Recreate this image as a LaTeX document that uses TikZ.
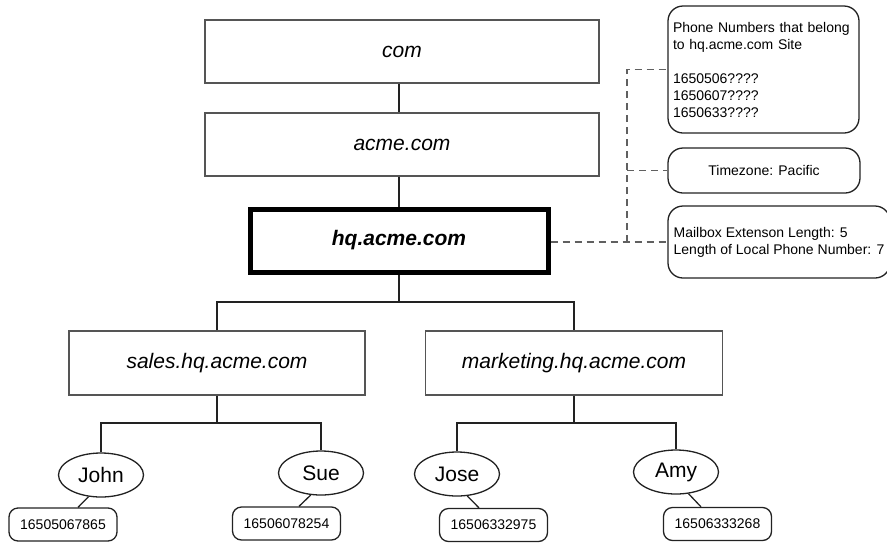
\documentclass[tikz,border=0pt]{standalone}
\usepackage{fontspec}
\setmainfont{Liberation Sans}
\usetikzlibrary{shapes.geometric,calc}
\definecolor{boxline}{HTML}{555555}
\definecolor{conn}{HTML}{222222}
\definecolor{dashc}{HTML}{606060}
\tikzset{
  dombox/.style={draw=boxline,line width=1.3pt,rectangle,inner sep=0pt,
    font=\fontsize{21}{25}\selectfont\itshape},
  hqbox/.style={draw=black,line width=5pt,rectangle,inner sep=0pt,
    font=\fontsize{21}{25}\selectfont\bfseries\itshape},
  person/.style={draw=conn,line width=1.3pt,ellipse,inner sep=0pt,
    minimum width=85pt,minimum height=44pt,font=\fontsize{21}{25}\selectfont},
  numbox/.style={draw=conn,line width=1.3pt,rectangle,rounded corners=9pt,inner sep=0pt,
    minimum width=108pt,minimum height=33pt,font=\fontsize{14}{17}\selectfont},
  infobox/.style={draw=conn,line width=1.3pt,rectangle,rounded corners=15pt,inner xsep=5pt,inner ysep=0pt,
    font=\fontsize{14}{17}\selectfont,align=left},
  conline/.style={draw=conn,line width=2pt},
  thinline/.style={draw=conn,line width=1.3pt},
  dashline/.style={draw=dashc,line width=1.8pt,dash pattern=on 7pt off 5pt},
}
\begin{document}
\begin{tikzpicture}[x=1pt,y=-1pt]
\useasboundingbox (0,0) rectangle (887,542);
% domain boxes
\node[dombox,minimum width=394pt,minimum height=63pt] (com) at (402,51.5) {com};
\node[dombox,minimum width=394pt,minimum height=63pt] (acme) at (402,144.5) {acme.com};
\node[hqbox,minimum width=298pt,minimum height=63pt] (hq) at (399,240.5) {hq.acme.com};
\node[dombox,minimum width=296pt,minimum height=64pt] (sales) at (217,363) {sales.hq.acme.com};
\node[dombox,minimum width=297pt,minimum height=64pt] (mkt) at (574,363) {marketing.hq.acme.com};
% people
\node[person] (john) at (101,475) {John};
\node[person] (sue) at (321,473) {Sue};
\node[person] (jose) at (457,474) {Jose};
\node[person] (amy) at (676,472) {Amy};
% numbers
\node[numbox] (johnnum) at (63,524.5) {16505067865};
\node[numbox] (suenum) at (286.5,523.5) {16506078254};
\node[numbox] (josenum) at (493.5,525) {16506332975};
\node[numbox] (amynum) at (717.5,524) {16506333268};
% info boxes
\node[infobox,minimum width=191pt,minimum height=127pt,text width=181pt] (phone) at (763.5,69.5)
  {Phone Numbers that belong\\to hq.acme.com Site\\[17pt]1650506????\\1650607????\\1650633????};
\node[infobox,minimum width=192pt,minimum height=45pt,align=center] (tz) at (764,170.5) {Timezone: Pacific};
\node[infobox,minimum width=222pt,minimum height=72pt] (mail) at (779,242)
  {Mailbox Extenson Length: 5\\Length of Local Phone Number: 7};
% tree connectors
\draw[conline] (com.south -| hq.north) -- (acme.north -| hq.north);
\draw[conline] (acme.south -| hq.north) -- (hq.north);
\coordinate (b1) at (399,302);
\draw[conline] (hq.south) -- (b1);
\draw[conline] (sales.north) |- (b1) -| (mkt.north);
\coordinate (b2) at (217,423);
\draw[conline] (sales.south) -- (b2);
\draw[conline] (john.north) |- (b2) -| (sue.north);
\coordinate (b3) at (574,423);
\draw[conline] (mkt.south) -- (b3);
\draw[conline] (jose.north) |- (b3) -| (amy.north);
% person to number
\draw[thinline] (john.240) -- ($(johnnum.north)+(15,0)$);
\draw[thinline] (sue.245) -- ($(suenum.north)+(12.5,0)$);
\draw[thinline] (jose.295) -- ($(josenum.north)+(-14.5,0)$);
\draw[thinline] (amy.300) -- ($(amynum.north)+(-16.5,0)$);
% dashed links
\coordinate (dv) at (627,242);
\draw[dashline] (hq.east |- dv) -- (dv -| mail.west);
\draw[dashline] (dv) |- (phone.west);
\draw[dashline] (dv |- tz.west) -- (tz.west);
\end{tikzpicture}
\end{document}
